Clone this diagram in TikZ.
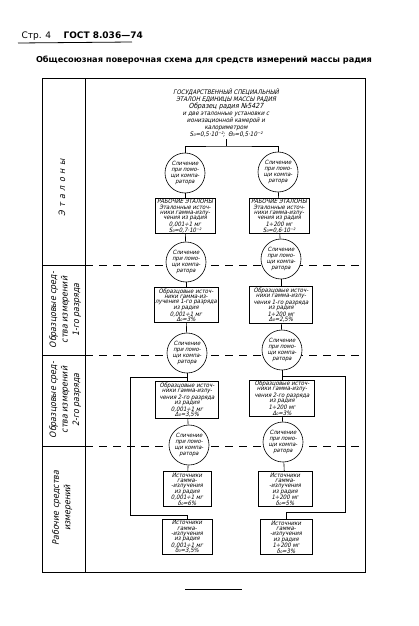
\documentclass[tikz,border=0pt]{standalone}
\usepackage{fontspec}
\setmainfont{DejaVu Sans}
\newfontfamily\gost{DejaVu Sans Condensed}[FakeSlant=0.22]
\usetikzlibrary{positioning}

\begin{document}
\begin{tikzpicture}[x=1pt,y=-1pt,
	stufe/.style={draw, line width=.6pt, fill=white, align=center, inner sep=1pt, font=\gost\fontsize{6}{5.4}\selectfont},
	vergl/.style={draw, circle, line width=.6pt, fill=white, minimum size=40pt, inner sep=0pt, align=center, font=\gost\fontsize{5.8}{6.2}\selectfont},
	razd/.style={dash pattern=on 8pt off 6pt, line width=.6pt},
	spalte/.style={rotate=90, align=center, font=\gost\fontsize{8.8}{11.5}\selectfont}]
		\useasboundingbox (0,0) rectangle (418,626);
		% Kopf der Seite
		\node[anchor=base west, font=\fontsize{9}{11}\selectfont] (str) at (18,38) {Стр. 4};
		\node[anchor=base west, font=\bfseries\fontsize{9}{11}\selectfont] (gost) at (60,38) {ГОСТ 8.036—74};
		\draw[line width=.8pt] (18,43) -- (132,42);
		\node[font=\bfseries\fontsize{8.2}{10}\selectfont] (titel) at (204,60) {Общесоюзная поверочная схема для средств измерений массы радия};

		% Rahmen und Spalte
		\draw[line width=.7pt] (42,78) rectangle (365,572);
		\draw[line width=.7pt] (85,78) -- (85,572);
		\foreach \y in {265,355,446} {\draw[line width=.7pt] (42,\y) -- (85,\y); \draw[razd] (85,\y) -- (365,\y);}
		\node[spalte] (etal) at (62,188) {Э\hspace{.4em}т\hspace{.4em}а\hspace{.4em}л\hspace{.4em}о\hspace{.4em}н\hspace{.4em}ы};
		\node[spalte] (obr1) at (65,310) {Образцовые сред-\\ства измерений\\1-го разряда};
		\node[spalte] (obr2) at (65,400) {Образцовые сред-\\ства измерений\\2-го разряда};
		\node[spalte] (rab) at (62,508) {Рабочие средства\\измерений};

		% Staatsetalon
		\node[draw, double, double distance=1.1pt, line width=.6pt, minimum width=130pt, minimum height=52pt, align=center, inner sep=1pt, font=\gost\fontsize{6.2}{6.9}\selectfont] (etalon) at (226,113) {ГОСУДАРСТВЕННЫЙ СПЕЦИАЛЬНЫЙ\\ЭТАЛОН ЕДИНИЦЫ МАССЫ РАДИЯ\\{\fontsize{7}{6.9}\selectfont Образец радия №5427}\\и две эталонные установки с\\ионизационной камерой и\\калориметром\\S₀=0,5·10⁻²;\enspace Θ₀=0,5·10⁻²};
		\coordinate (gabel) at (226,146);

		% linke Kette
		\node[vergl] (cmpLa) at (185,173) {Сличение\\при помо-\\щи компа-\\ратора};
		\node[stufe, minimum width=60pt] (wrkL) at (185,216) {РАБОЧИЕ ЭТАЛОНЫ\\Эталонные источ-\\ники гамма-излу-\\чения из радия\\0,001÷1 мг\\S₀=0,7·10⁻²};
		\node[vergl] (cmpLb) at (186,262) {Сличение\\при помо-\\щи компа-\\ратора};
		\node[stufe, minimum width=64pt] (razLa) at (186,305) {Образцовые источ-\\ники гамма-из-\\лучения 1-го разряда\\из радия\\0,001÷1 мг\\Δ₀=3\%};
		\node[vergl] (cmpLc) at (187,353) {Сличение\\при помо-\\щи компа-\\ратора};
		\node[stufe, minimum width=63pt] (razLb) at (187,400) {Образцовые источ-\\ники гамма-излу-\\чения 2-го разряда\\из радия\\0,001÷1 мг\\Δ₀=3,5\%};
		\node[vergl] (cmpLd) at (189,445) {Сличение\\при помо-\\щи компа-\\ратора};
		\node[stufe, minimum width=48pt] (srcLa) at (187,489) {Источники\\гамма-\\-излучения\\из радия\\0,001÷1 мг\\δ₀=6\%};
		\node[stufe, minimum width=50pt] (srcLb) at (187,537) {Источники\\гамма-\\-излучения\\из радия\\0,001÷1 мг\\δ₀=3,5\%};

		% rechte Kette
		\node[vergl] (cmpRa) at (278,172) {Сличение\\при помо-\\щи компа-\\ратора};
		\node[stufe, minimum width=60pt] (wrkR) at (279,216) {РАБОЧИЕ ЭТАЛОНЫ\\Эталонные источ-\\ники гамма-излу-\\чения из радия\\1÷200 мг\\S₀=0,6·10⁻²};
		\node[vergl] (cmpRb) at (281,259) {Сличение\\при помо-\\щи компа-\\ратора};
		\node[stufe, minimum width=63pt] (razRa) at (281,305) {Образцовые источ-\\ники гамма-излу-\\чения 1-го разряда\\из радия\\1÷200 мг\\Δ₀=2,5\%};
		\node[vergl] (cmpRc) at (282,350) {Сличение\\при помо-\\щи компа-\\ратора};
		\node[stufe, minimum width=65pt] (razRb) at (282,398) {Образцовые источ-\\ники гамма-излу-\\чения 2-го разряда\\из радия\\1÷200 мг\\Δ₀=3\%};
		\node[vergl] (cmpRd) at (283,442) {Сличение\\при помо-\\щи компа-\\ратора};
		\node[stufe, minimum width=54pt] (srcRa) at (285,489) {Источники\\гамма-\\-излучения\\из радия\\1÷200 мг\\δ₀=5\%};
		\node[stufe, minimum width=52pt] (srcRb) at (286,537) {Источники\\гамма-\\-излучения\\из радия\\1÷200 мг\\δ₀=3\%};

		% Verbindungen
		\draw[line width=.6pt] (etalon.south) -- (gabel); \draw[line width=.6pt] (cmpLa.north) |- (gabel) -| (cmpRa.north);
		\draw[line width=.6pt] (cmpLa) -- (wrkL); \draw[line width=.6pt] (wrkL) -- (cmpLb); \draw[line width=.6pt] (cmpLb) -- (razLa); \draw[line width=.6pt] (razLa) -- (cmpLc);
		\draw[line width=.6pt] (cmpLc) -- (razLb); \draw[line width=.6pt] (razLb) -- (cmpLd); \draw[line width=.6pt] (cmpLd) -- (srcLa);
		\draw[line width=.6pt] (cmpRa) -- (wrkR); \draw[line width=.6pt] (wrkR) -- (cmpRb); \draw[line width=.6pt] (cmpRb) -- (razRa); \draw[line width=.6pt] (razRa) -- (cmpRc);
		\draw[line width=.6pt] (cmpRc) -- (razRb); \draw[line width=.6pt] (razRb) -- (cmpRd); \draw[line width=.6pt] (cmpRd) -- (srcRa);
		\coordinate (jL) at (187,377); \coordinate (bL) at (130,515);
		\coordinate (jR) at (282,376); \coordinate (bR) at (345,512);
		\draw[line width=.6pt] (jL) -| (bL) -| (srcLb.north);
		\draw[line width=.6pt] (jR) -| (bR) -| (srcRb.north);

		% Fuss
		\draw[line width=.8pt] (185,589) -- (242,589);
	\end{tikzpicture}
\end{document}
